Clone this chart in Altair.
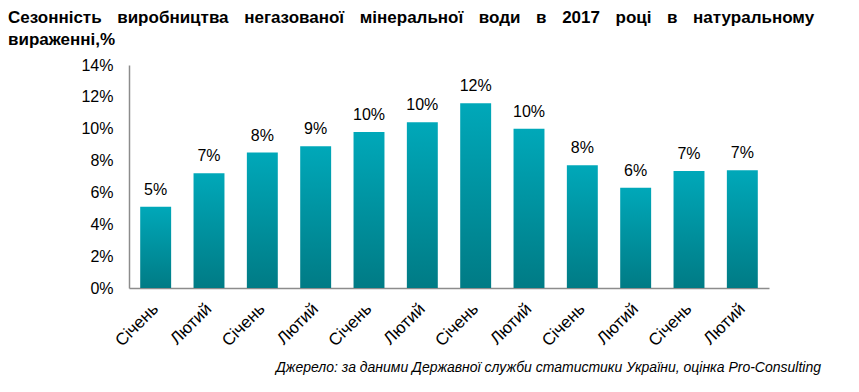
import json
import altair as alt
import pandas as pd

# ---- data ----
months = ["Січень", "Лютий", "Січень", "Лютий", "Січень", "Лютий",
          "Січень", "Лютий", "Січень", "Лютий", "Січень", "Лютий"]
values = [5.1, 7.2, 8.5, 8.9, 9.8, 10.4, 11.6, 10.0, 7.7, 6.3, 7.35, 7.4]
value_labels = ["5%", "7%", "8%", "9%", "10%", "10%", "12%", "10%", "8%", "6%", "7%", "7%"]
y_ticks = [0, 0.02, 0.04, 0.06, 0.08, 0.10, 0.12, 0.14]

title_words_1 = ["Сезонність", "виробництва", "негазованої", "мінеральної", "води",
                 "в", "2017", "році", "в", "натуральному"]
title_line_2 = "вираженні,%"
source_text = "Джерело: за даними Державної служби статистики України, оцінка Pro-Consulting"

FONT = "Liberation Sans, Arial, sans-serif"
gap = "\u00a0\u00a0\u00a0\u200a"
title_line_1 = gap.join(title_words_1)

df = pd.DataFrame({
    "idx": list(range(len(months))),
    "month": months,
    "value": [v / 100 for v in values],
    "label": value_labels,
})

label_expr = json.dumps(months, ensure_ascii=False) + "[datum.value]"

x_enc = alt.X(
    "idx:O",
    scale=alt.Scale(paddingInner=0.42, paddingOuter=0.21),
    axis=alt.Axis(
        title=None, labelExpr=label_expr, labelAngle=-45, labelAlign="right",
        labelBaseline="middle", labelFontSize=17, labelFont=FONT, labelColor="#000",
        ticks=False, domainColor="#8c8c8c", domainWidth=1.5, labelPadding=18,
    ),
)
y_enc = alt.Y(
    "value:Q",
    scale=alt.Scale(domain=[0, 0.14]),
    axis=alt.Axis(
        title=None, values=y_ticks, format=".0%", grid=False, ticks=False,
        domainColor="#8c8c8c", domainWidth=1.5, labelFontSize=16, labelFont=FONT,
        labelColor="#000", labelPadding=16,
    ),
)

base = alt.Chart(df)

bars = base.mark_bar(
    color=alt.Gradient(
        gradient="linear",
        stops=[alt.GradientStop(color="#00A8B9", offset=0),
               alt.GradientStop(color="#007B85", offset=1)],
        x1=0, x2=0, y1=0, y2=1,
    )
).encode(x=x_enc, y=y_enc)

texts = base.mark_text(
    baseline="alphabetic", dy=-12, fontSize=16, font=FONT, color="#000"
).encode(x=x_enc, y=y_enc, text="label:N")

title1 = alt.Chart(pd.DataFrame({"t": [title_line_1]})).mark_text(
    align="left", baseline="alphabetic", fontSize=17, fontWeight="bold", font=FONT, color="#000"
).encode(x=alt.value(-121), y=alt.value(-42), text="t:N")

title2 = alt.Chart(pd.DataFrame({"t": [title_line_2]})).mark_text(
    align="left", baseline="alphabetic", fontSize=17, fontWeight="bold", font=FONT, color="#000"
).encode(x=alt.value(-121), y=alt.value(-20), text="t:N")

source = alt.Chart(pd.DataFrame({"t": [source_text]})).mark_text(
    align="right", baseline="alphabetic", fontSize=14, fontStyle="italic", font=FONT, color="#000"
).encode(x=alt.value(692), y=alt.value(307), text="t:N")

chart = alt.layer(bars, texts, title1, title2, source).properties(
    width=640, height=223,
    autosize="none",
    padding={"left": 121, "top": 57, "right": 82, "bottom": 96},
).configure_view(stroke=None)

chart.save("out.html", embed_options={"renderer": "svg", "actions": False})
